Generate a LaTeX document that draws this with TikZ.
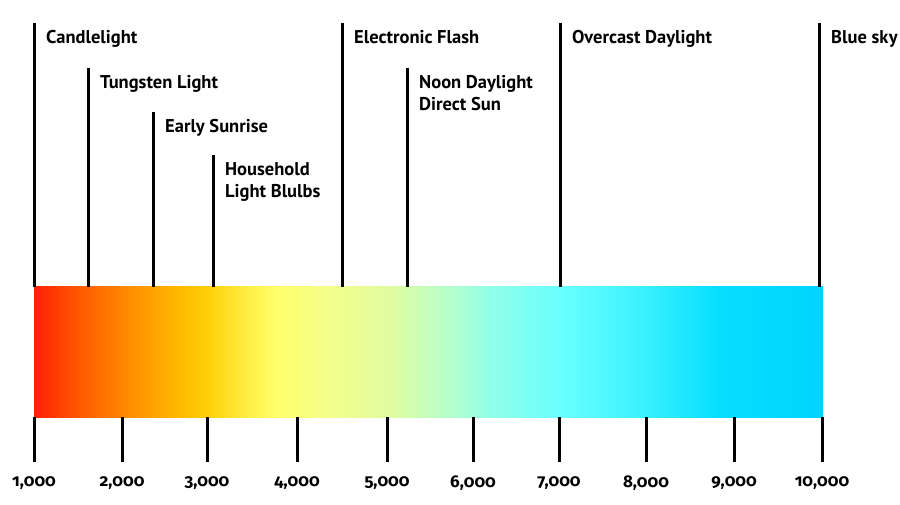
\documentclass[tikz,border=0pt]{standalone}
\usepackage{fontspec}
\setmainfont{PT Sans}
\newfontfamily\numfont[Numbers=OldStyle]{Fira Sans}
\usepackage{tikz}
\usetikzlibrary{positioning}
\definecolor{KRed}{RGB}{255,32,4}
\definecolor{KOrangeRed}{RGB}{255,90,0}
\definecolor{KOrange}{RGB}{255,142,0}
\definecolor{KAmber}{RGB}{255,186,0}
\definecolor{KGold}{RGB}{255,208,10}
\definecolor{KLemon}{RGB}{255,236,64}
\definecolor{KYellow}{RGB}{255,255,105}
\definecolor{KPaleYellow}{RGB}{242,254,138}
\definecolor{KPaleLime}{RGB}{225,252,160}
\definecolor{KMint}{RGB}{180,255,205}
\definecolor{KAqua}{RGB}{145,255,232}
\definecolor{KCyan}{RGB}{105,255,255}
\definecolor{KSky}{RGB}{60,242,255}
\definecolor{KBlue}{RGB}{5,222,255}
\definecolor{KDeepBlue}{RGB}{0,212,255}
\pgfdeclarehorizontalshading{kelvin}{100bp}{
  color(0bp)=(KRed); color(25bp)=(KRed);
  color(27.92bp)=(KOrangeRed); color(31.08bp)=(KOrange);
  color(34.25bp)=(KAmber); color(36.03bp)=(KGold);
  color(38.37bp)=(KLemon); color(40.27bp)=(KYellow);
  color(43.76bp)=(KPaleYellow); color(47.56bp)=(KPaleLime);
  color(51.36bp)=(KMint); color(53.90bp)=(KAqua);
  color(58.33bp)=(KCyan); color(63.40bp)=(KSky);
  color(68.47bp)=(KBlue); color(75bp)=(KDeepBlue);
  color(100bp)=(KDeepBlue)}
\tikzset{
  tempbar/.style={shading=kelvin,minimum width=789pt,minimum height=130pt,inner sep=0pt,outer sep=0pt},
  marker/.style={line width=3pt,draw=black},
  sourcetext/.style={anchor=base west,inner sep=0pt,align=left,font=\bfseries\fontsize{18.5}{22}\selectfont},
  kelvintext/.style={inner sep=0pt,font=\numfont\bfseries\fontsize{17}{19}\selectfont}
}
\begin{document}
\begin{tikzpicture}[x=1pt,y=-1pt]
\useasboundingbox (0,0) rectangle (900,505);
\node[tempbar] (bar) at (428.5,352) {};
\foreach \x/\ytop/\dy/\name/\txt in {34/23/21/candle/Candlelight, 88/68/21/tungsten/Tungsten Light,
  153/112/21/sunrise/Early Sunrise, 213/155/43/household/{Household\\Light Blulbs},
  342/23/21/flash/Electronic Flash, 407/68/43/noon/{Noon Daylight\\Direct Sun},
  560/23/21/overcast/Overcast Daylight, 819/23/21/bluesky/Blue sky}{
  \coordinate (\name) at (\x,\ytop);
  \draw[marker] (\name) -- (\name |- bar.north);
  \node[sourcetext] (\name-txt) at ([shift={(12,\dy)}]\name) {\txt};
}
\foreach \x/\val [count=\i] in {34/{1,000}, 122/{2,000}, 207/{3,000}, 297/{4,000}, 387/{5,000},
  473/{6,000}, 559/{7,000}, 646/{8,000}, 734/{9,000}, 822/{10,000}}{
  \coordinate (tick\i) at (\x,462);
  \draw[marker] (tick\i |- bar.south) -- (tick\i);
  \node[kelvintext] (num\i) at ([shift={(0,21)}]tick\i) {\val};
}
\end{tikzpicture}
\end{document}
